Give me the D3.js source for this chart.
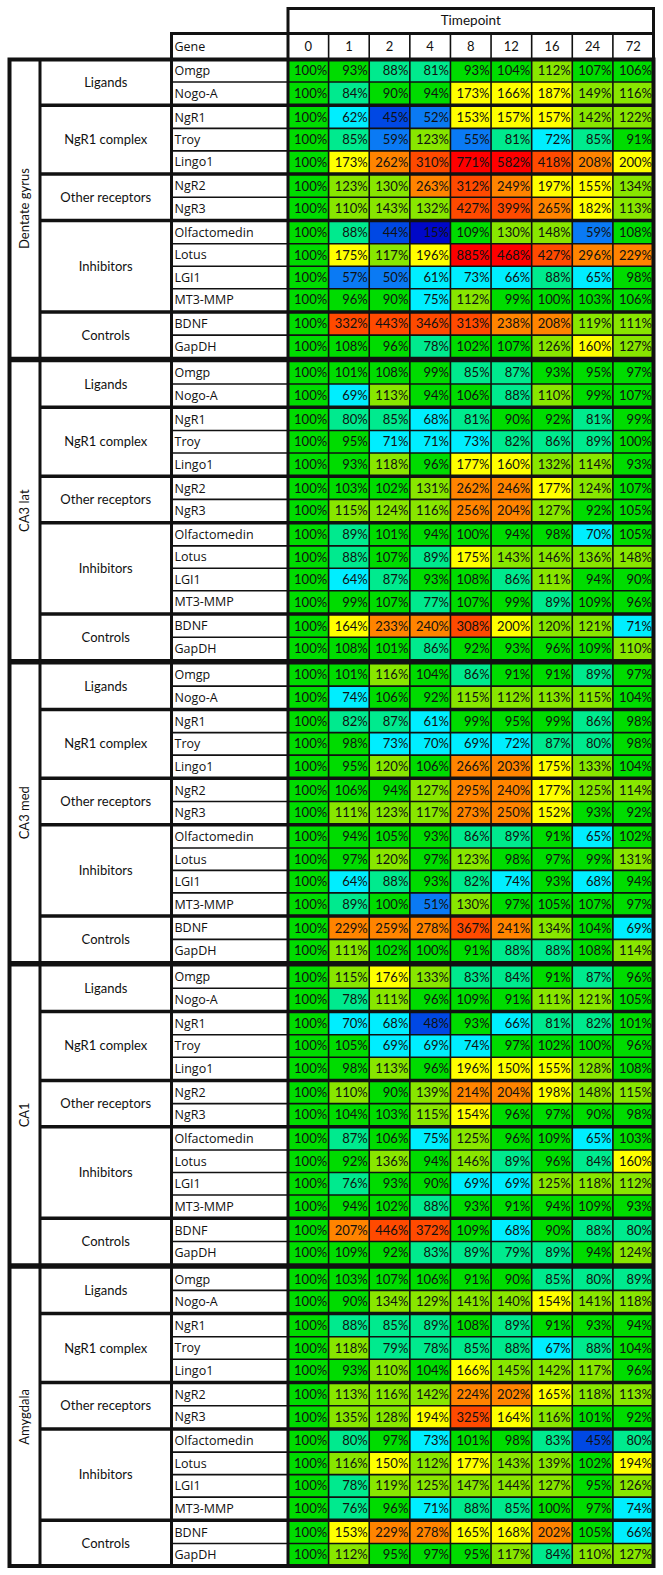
<!DOCTYPE html>
<html><head><meta charset="utf-8">
<script src="https://cdn.jsdelivr.net/npm/d3@7"></script>
<style>html,body{margin:0;padding:0;background:#fff;} svg{display:block;font-family:Lato, "Open Sans", sans-serif;}</style>
</head><body><svg id="c" width="663" height="1575"></svg>
<script>
const timepoints = ["0","1","2","4","8","12","16","24","72"];
const regions = ["Dentate gyrus","CA3 lat","CA3 med","CA1","Amygdala"];
const groups = ["Ligands","NgR1 complex","Other receptors","Inhibitors","Controls"];
const groupGenes = [["Omgp","Nogo-A"],["NgR1","Troy","Lingo1"],["NgR2","NgR3"],["Olfactomedin","Lotus","LGI1","MT3-MMP"],["BDNF","GapDH"]];

const dentateGyrus = [
  [100,93,88,81,93,104,112,107,106],
  [100,84,90,94,173,166,187,149,116],
  [100,62,45,52,153,157,157,142,122],
  [100,85,59,123,55,81,72,85,91],
  [100,173,262,310,771,582,418,208,200],
  [100,123,130,263,312,249,197,155,134],
  [100,110,143,132,427,399,265,182,113],
  [100,88,44,15,109,130,148,59,108],
  [100,175,117,196,885,468,427,296,229],
  [100,57,50,61,73,66,88,65,98],
  [100,96,90,75,112,99,100,103,106],
  [100,332,443,346,313,238,208,119,111],
  [100,108,96,78,102,107,126,160,127]
];
const ca3Lat = [
  [100,101,108,99,85,87,93,95,97],
  [100,69,113,94,106,88,110,99,107],
  [100,80,85,68,81,90,92,81,99],
  [100,95,71,71,73,82,86,89,100],
  [100,93,118,96,177,160,132,114,93],
  [100,103,102,131,262,246,177,124,107],
  [100,115,124,116,256,204,127,92,105],
  [100,89,101,94,100,94,98,70,105],
  [100,88,107,89,175,143,146,136,148],
  [100,64,87,93,108,86,111,94,90],
  [100,99,107,77,107,99,89,109,96],
  [100,164,233,240,308,200,120,121,71],
  [100,108,101,86,92,93,96,109,110]
];
const ca3Med = [
  [100,101,116,104,86,91,91,89,97],
  [100,74,106,92,115,112,113,115,104],
  [100,82,87,61,99,95,99,86,98],
  [100,98,73,70,69,72,87,80,98],
  [100,95,120,106,266,203,175,133,104],
  [100,106,94,127,295,240,177,125,114],
  [100,111,123,117,273,250,152,93,92],
  [100,94,105,93,86,89,91,65,102],
  [100,97,120,97,123,98,97,99,131],
  [100,64,88,93,82,74,93,68,94],
  [100,89,100,51,130,97,105,107,97],
  [100,229,259,278,367,241,134,104,69],
  [100,111,102,100,91,88,88,108,114]
];
const ca1 = [
  [100,115,176,133,83,84,91,87,96],
  [100,78,111,96,109,91,111,121,105],
  [100,70,68,48,93,66,81,82,101],
  [100,105,69,69,74,97,102,100,96],
  [100,98,113,96,196,150,155,128,108],
  [100,110,90,139,214,204,198,148,115],
  [100,104,103,115,154,96,97,90,98],
  [100,87,106,75,125,96,109,65,103],
  [100,92,136,94,146,89,96,84,160],
  [100,76,93,90,69,69,125,118,112],
  [100,94,102,88,93,91,94,109,93],
  [100,207,446,372,109,68,90,88,80],
  [100,109,92,83,89,79,89,94,124]
];
const amygdala = [
  [100,103,107,106,91,90,85,80,89],
  [100,90,134,129,141,140,154,141,118],
  [100,88,85,89,108,89,91,93,94],
  [100,118,79,78,85,88,67,88,104],
  [100,93,110,104,166,145,142,117,96],
  [100,113,116,142,224,202,165,118,113],
  [100,135,128,194,325,164,116,101,92],
  [100,80,97,73,101,98,83,45,80],
  [100,116,150,112,177,143,139,102,194],
  [100,78,119,125,147,144,127,95,126],
  [100,76,96,71,88,85,100,97,74],
  [100,153,229,278,165,168,202,105,66],
  [100,112,95,97,95,117,84,110,127]
];
const regionValues = [dentateGyrus, ca3Lat, ca3Med, ca1, amygdala];

const colorBreaks = [30, 49, 60, 75.5, 90, 110, 150, 200.5, 300, 450];
const colorSwatches = ["#0008c8","#0048e4","#0a7af4","#00eeff","#00ea8e","#00dc00","#88e600","#ffff00","#ff8400","#ff4a00","#ff0000"];

// layout constants (virtual units)
const RH = 22.47, GG = 1.5, RG = 4;
const rows = [];
const groupSpans = [];
const regionSpans = [];
let u = 0;
regions.forEach((reg, ri) => {
  if (ri > 0) u += RG;
  const rStart = u;
  let k = 0;
  groups.forEach((grp, gi) => {
    if (gi > 0) u += GG;
    const gStart = u;
    groupGenes[gi].forEach((gene, i) => {
      rows.push({region: ri, group: gi, gene, first: i === 0, u, values: regionValues[ri][k]});
      k++;
      u += RH;
    });
    groupSpans.push({name: grp, region: ri, gi, u0: gStart, u1: u});
  });
  regionSpans.push({name: reg, ri, u0: rStart, u1: u});
});
const total = u;

const X0 = 9.5, XG = 40, XN = 171.5, XD0 = 288, XD1 = 653.5;
const y = d3.scaleLinear().domain([0, total]).range([59.5, 1566]);
const x = d3.scaleBand().domain(timepoints).range([XD0, XD1]);
const color = d3.scaleThreshold().domain(colorBreaks).range(colorSwatches);

const svg = d3.select("#c");
const ink = "#111";

// cells
const cellG = svg.append("g");
rows.forEach(r => {
  cellG.selectAll(null).data(r.values.map((v, i) => ({v, t: timepoints[i]})))
    .join("rect")
    .attr("x", d => x(d.t)).attr("width", x.bandwidth())
    .attr("y", y(r.u)).attr("height", y(r.u + RH) - y(r.u))
    .attr("fill", d => color(d.v));
});

// header boxes
const hdr = svg.append("g").attr("fill", "none").attr("stroke", ink);
hdr.append("rect").attr("x", XD0).attr("y", 8.5).attr("width", XD1 - XD0).attr("height", 25).attr("stroke-width", 3);
hdr.append("rect").attr("x", XN).attr("y", 33.5).attr("width", XD1 - XN).attr("height", 26).attr("stroke-width", 3);
timepoints.slice(1).forEach(t => {
  hdr.append("line").attr("x1", x(t)).attr("x2", x(t)).attr("y1", 33.5).attr("y2", 59.5).attr("stroke-width", 1.6);
});
hdr.append("line").attr("x1", XD0).attr("x2", XD0).attr("y1", 33.5).attr("y2", 59.5).attr("stroke-width", 3);

// grid lines
const grid = svg.append("g").attr("stroke", ink).attr("fill", "none");
rows.filter(r => !r.first).forEach(r => {
  grid.append("line").attr("x1", XN).attr("x2", XD1).attr("y1", y(r.u)).attr("y2", y(r.u)).attr("stroke-width", 1.6);
});
timepoints.slice(1).forEach(t => {
  grid.append("line").attr("x1", x(t)).attr("x2", x(t)).attr("y1", y(0)).attr("y2", y(total)).attr("stroke-width", 1.6);
});
groupSpans.filter(g => g.gi > 0).forEach(g => {
  const yy = y(g.u0 - GG / 2);
  grid.append("line").attr("x1", XG).attr("x2", XD1).attr("y1", yy).attr("y2", yy).attr("stroke-width", GG + 2);
});
regionSpans.filter(r => r.ri > 0).forEach(r => {
  const yy = y(r.u0 - RG / 2);
  grid.append("line").attr("x1", X0).attr("x2", XD1).attr("y1", yy).attr("y2", yy).attr("stroke-width", RG + 1.5);
});
[[XG, 3], [XN, 3], [XD0, 3]].forEach(([xx, w]) => {
  grid.append("line").attr("x1", xx).attr("x2", xx).attr("y1", y(0)).attr("y2", y(total)).attr("stroke-width", w);
});
grid.append("rect").attr("x", X0).attr("y", y(0)).attr("width", XD1 - X0).attr("height", y(total) - y(0)).attr("stroke-width", 4);

// texts
const txt = svg.append("g").attr("fill", "#111").attr("font-size", 13);
txt.append("text").attr("x", (XD0 + XD1) / 2).attr("y", 20.5).attr("dy", "0.35em").attr("text-anchor", "middle")
  .attr("font-size", 13.5).text("Timepoint");
txt.append("text").attr("x", XN + 3).attr("y", 46.5).attr("dy", "0.35em")
  .attr("font-family", "'Open Sans', sans-serif").attr("font-size", 12.5).text("Gene");
timepoints.forEach(t => {
  txt.append("text").attr("x", x(t) + x.bandwidth() / 2).attr("y", 46.5).attr("dy", "0.35em").attr("text-anchor", "middle").text(t);
});
rows.forEach(r => {
  const cy = y(r.u + RH / 2);
  txt.append("text").attr("x", XN + 3).attr("y", cy).attr("dy", "0.35em")
    .attr("font-family", "'Open Sans', sans-serif").attr("font-size", 12.5).text(r.gene);
  r.values.forEach((v, i) => {
    txt.append("text").attr("x", x(timepoints[i]) + x.bandwidth() - 1.5).attr("y", cy).attr("dy", "0.35em")
      .attr("text-anchor", "end").text(v + "%");
  });
});
groupSpans.forEach(g => {
  txt.append("text").attr("x", (XG + XN) / 2).attr("y", y((g.u0 + g.u1) / 2)).attr("dy", "0.35em")
    .attr("text-anchor", "middle").text(g.name);
});
regionSpans.forEach(r => {
  txt.append("text").attr("transform", `translate(${(X0 + XG) / 2},${y((r.u0 + r.u1) / 2)}) rotate(-90)`)
    .attr("dy", "0.35em").attr("text-anchor", "middle").text(r.name);
});
</script>
</body></html>
